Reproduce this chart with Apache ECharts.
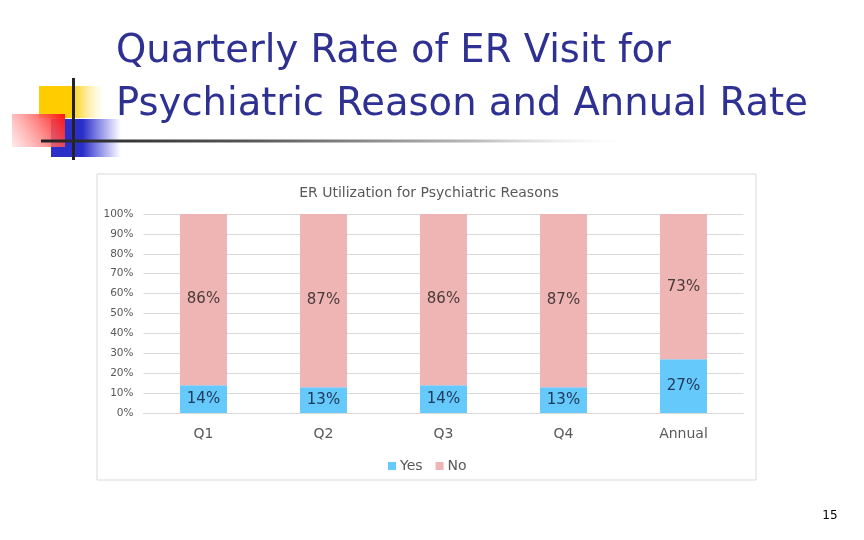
<!DOCTYPE html>
<html lang="en">
<head>
    <meta charset="UTF-8">
    <title>Quarterly Rate of ER Visit</title>
    <script src="https://cdn.jsdelivr.net/npm/echarts@6/dist/echarts.min.js"></script>
    <style>
        html, body { margin: 0; padding: 0; background: #fff; }
        #main { width: 864px; height: 540px; }
    </style>
</head>
<body>
<div id="main"></div>
<script type="text/javascript">
    // data
    var categories = ['Q1', 'Q2', 'Q3', 'Q4', 'Annual'];
    var yesRate = [14, 13, 14, 13, 27];
    var noRate = [86, 87, 86, 87, 73];
    var yTicks = [0, 10, 20, 30, 40, 50, 60, 70, 80, 90, 100];

    var font = '"DejaVu Sans", sans-serif';
    var myChart = echarts.init(document.getElementById('main'));

    function fade(c0, c1, stop) {
        return new echarts.graphic.LinearGradient(0, 0, 1, 0, [
            {offset: 0, color: c0}, {offset: stop, color: c0}, {offset: 1, color: c1}
        ]);
    }

    var option = {
        backgroundColor: '#fff',
        textStyle: {fontFamily: font},
        animation: false,
        title: {
            text: 'ER Utilization for Psychiatric Reasons',
            left: 424,
            top: 181,
            textAlign: 'center',
            textStyle: {fontSize: 14, fontWeight: 'normal', color: '#595959', fontFamily: font}
        },
        legend: {
            data: ['Yes', 'No'],
            left: 383,
            top: 454,
            itemWidth: 8,
            itemHeight: 8,
            itemGap: 13,
            icon: 'rect',
            textStyle: {fontSize: 14, color: '#595959', fontFamily: font, padding: [0, 0, 0, -1]}
        },
        grid: {left: 143.5, right: 120.5, top: 214, bottom: 127},
        xAxis: {
            type: 'category',
            data: categories,
            axisTick: {show: false},
            axisLine: {lineStyle: {color: '#D9D9D9'}},
            axisLabel: {fontSize: 14, color: '#595959', margin: 14, fontFamily: font}
        },
        yAxis: {
            type: 'value',
            min: yTicks[0],
            max: yTicks[yTicks.length - 1],
            interval: 10,
            axisLine: {show: false},
            axisTick: {show: false},
            splitLine: {lineStyle: {color: '#D9D9D9'}},
            axisLabel: {fontSize: 10.5, color: '#595959', margin: 10, formatter: '{value}%', fontFamily: font}
        },
        series: [
            {
                name: 'Yes',
                type: 'bar',
                stack: 'rate',
                barWidth: 47,
                data: yesRate,
                itemStyle: {color: '#66C9FB'},
                label: {show: true, position: 'inside', formatter: '{c}%', fontSize: 15, color: '#203A5C', fontFamily: font}
            },
            {
                name: 'No',
                type: 'bar',
                stack: 'rate',
                barWidth: 47,
                data: noRate,
                itemStyle: {color: '#EFB5B5'},
                label: {show: true, position: 'inside', formatter: '{c}%', fontSize: 15, color: '#4A3A3A', fontFamily: font}
            }
        ],
        graphic: [
            // chart frame
            {type: 'rect', z: -10, shape: {x: 97, y: 174, width: 659, height: 306},
                style: {fill: 'none', stroke: '#D9D9D9', lineWidth: 1}},
            // slide logo
            {type: 'rect', shape: {x: 39, y: 86, width: 64, height: 32},
                style: {fill: fade('#FFCC00', 'rgba(255,230,120,0)', 0.5)}},
            {type: 'rect', shape: {x: 51, y: 119, width: 70, height: 38},
                style: {fill: fade('#2B2FC8', 'rgba(60,60,220,0)', 0.45)}},
            {type: 'rect', shape: {x: 12, y: 114, width: 53, height: 33},
                style: {fill: new echarts.graphic.LinearGradient(1, 0, 0, 1, [
                    {offset: 0, color: '#FF1010'}, {offset: 1, color: 'rgba(255,220,220,0.6)'}
                ])}},
            {type: 'rect', shape: {x: 72, y: 78, width: 3, height: 82}, style: {fill: '#222'}},
            {type: 'rect', shape: {x: 41, y: 139.5, width: 580, height: 3},
                style: {fill: new echarts.graphic.LinearGradient(0, 0, 1, 0, [
                    {offset: 0, color: '#222'}, {offset: 0.35, color: '#555'},
                    {offset: 0.75, color: '#bbb'}, {offset: 1, color: 'rgba(230,230,230,0)'}
                ])}},
            // slide title
            {type: 'text', x: 116, y: 52, style: {text: 'Quarterly Rate of ER Visit for',
                font: '38.5px ' + font, fill: '#2E3192', verticalAlign: 'middle'}},
            {type: 'text', x: 116, y: 105, style: {text: 'Psychiatric Reason and Annual Rate',
                font: '38.5px ' + font, fill: '#2E3192', verticalAlign: 'middle'}},
            // page number
            {type: 'text', x: 830, y: 516, style: {text: '15', font: '12px ' + font,
                fill: '#000', align: 'center', verticalAlign: 'middle'}}
        ]
    };
    myChart.setOption(option);
</script>
</body>
</html>
